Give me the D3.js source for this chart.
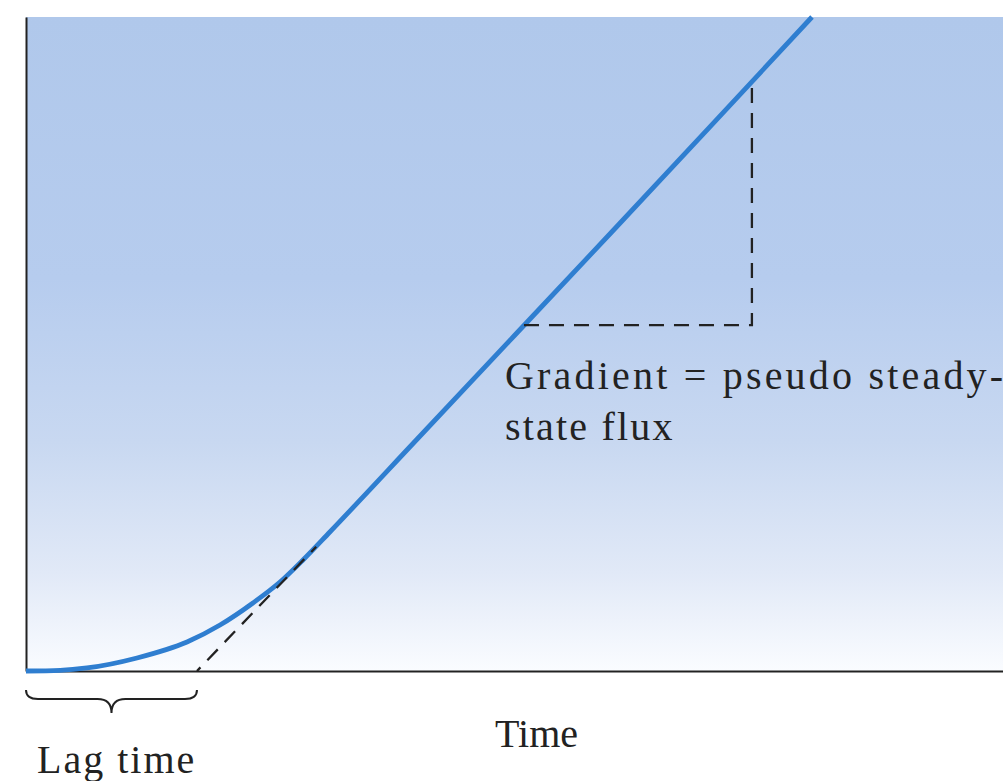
<!DOCTYPE html>
<html>
<head>
<meta charset="utf-8">
<script src="https://cdn.jsdelivr.net/npm/d3@7"></script>
<style>
  html, body { margin: 0; padding: 0; background: #fff; }
  svg { display: block; }
</style>
</head>
<body>
<svg id="chart" width="1003" height="781"></svg>
<script>
// ---- data (time units 0..100, amount units 0..100) ----
const curveTime   = [0, 3.5, 6.24, 11.36, 16.48, 19.86, 23.23, 26.0, 28.35, 31.1, 40, 50, 60, 70, 80.45];
const curveAmount = [0, 0.1, 0.46, 1.99, 4.43, 7.03, 10.40, 13.6, 16.97, 21.25, 35.4, 51.3, 67.2, 83.2, 100];
const lagTime = 17.5;
const tangentTime   = [17.5, 29.7];
const tangentAmount = [0, 19.0];
const triangleTime   = [50.97, 74.3, 74.3];
const triangleAmount = [52.9, 52.9, 89.6];
const labelGradient = ["Gradient = pseudo steady-", "state flux"];
const labelX = "Time";
const labelLag = "Lag time";

(function () {
const svg = d3.select("#chart");
const mLeft = 26, mRight = 1003, mTop = 17, mBottom = 671;
const x = d3.scaleLinear().domain([0, 100]).range([mLeft, mRight]);
const y = d3.scaleLinear().domain([0, 100]).range([mBottom, mTop]);

// background gradient
const defs = svg.append("defs");
const grad = defs.append("linearGradient").attr("id", "bg")
  .attr("x1", 0).attr("y1", 0).attr("x2", 0).attr("y2", 1);
[[0, "#b0c8eb"], [0.4, "#b6ccee"], [0.65, "#c8d8f1"], [0.85, "#e1e9f7"], [1, "#fafcff"]]
  .forEach(([o, c]) => grad.append("stop").attr("offset", o).attr("stop-color", c));
svg.append("rect").attr("x", mLeft).attr("y", mTop)
  .attr("width", mRight - mLeft).attr("height", mBottom - mTop).attr("fill", "url(#bg)");

// axes (lines only)
svg.append("g").attr("transform", `translate(0,${mBottom})`)
  .call(d3.axisBottom(x).tickValues([]).tickSizeOuter(0));
svg.append("g").attr("transform", `translate(${mLeft},0)`)
  .call(d3.axisLeft(y).tickValues([]).tickSizeOuter(0));
svg.selectAll(".domain").attr("stroke", "#222").attr("stroke-width", 2);

// main curve
const pts = curveTime.map((t, i) => [t, curveAmount[i]]);
const line = d3.line().x(d => x(d[0])).y(d => y(d[1])).curve(d3.curveMonotoneX);
svg.append("path").datum(pts).attr("d", line)
  .attr("fill", "none").attr("stroke", "#2f7ed0").attr("stroke-width", 4.8)
  .attr("stroke-linecap", "butt");

// dashed tangent
const lin = d3.line().x(d => x(d[0])).y(d => y(d[1]));
svg.append("path").datum(tangentTime.map((t, i) => [t, tangentAmount[i]])).attr("d", lin)
  .attr("fill", "none").attr("stroke", "#222").attr("stroke-width", 2.3)
  .attr("stroke-dasharray", "15,10").attr("stroke-dashoffset", 10);

// dashed triangle
svg.append("path").datum(triangleTime.map((t, i) => [t, triangleAmount[i]])).attr("d", lin)
  .attr("fill", "none").attr("stroke", "#222").attr("stroke-width", 2.3)
  .attr("stroke-dasharray", "15,10");

// brace
const xs = x(0), xe = x(lagTime), mid = (xs + xe) / 2;
const bTop = 690, bMid = 699, bTip = 713;
const brace = `M${xs},${bTop} Q${xs},${bMid} ${xs + 12},${bMid} L${mid - 14},${bMid} Q${mid},${bMid} ${mid},${bTip} Q${mid},${bMid} ${mid + 14},${bMid} L${xe - 12},${bMid} Q${xe},${bMid} ${xe},${bTop}`;
svg.append("path").attr("d", brace).attr("fill", "none")
  .attr("stroke", "#222").attr("stroke-width", 2);

// labels
const font = "'Liberation Serif', 'Times New Roman', serif";
svg.append("text").attr("x", 505).attr("y", 389)
  .attr("font-family", font).attr("font-size", 40).attr("letter-spacing", 3.2)
  .attr("fill", "#222").text(labelGradient[0]);
svg.append("text").attr("x", 505).attr("y", 440)
  .attr("font-family", font).attr("font-size", 40).attr("letter-spacing", 2.2)
  .attr("fill", "#222").text(labelGradient[1]);
svg.append("text").attr("x", 495).attr("y", 747)
  .attr("font-family", font).attr("font-size", 40)
  .attr("fill", "#222").text(labelX);
svg.append("text").attr("x", 37).attr("y", 773)
  .attr("font-family", font).attr("font-size", 40).attr("letter-spacing", 2)
  .attr("fill", "#222").text(labelLag);
})();
</script>
</body>
</html>
